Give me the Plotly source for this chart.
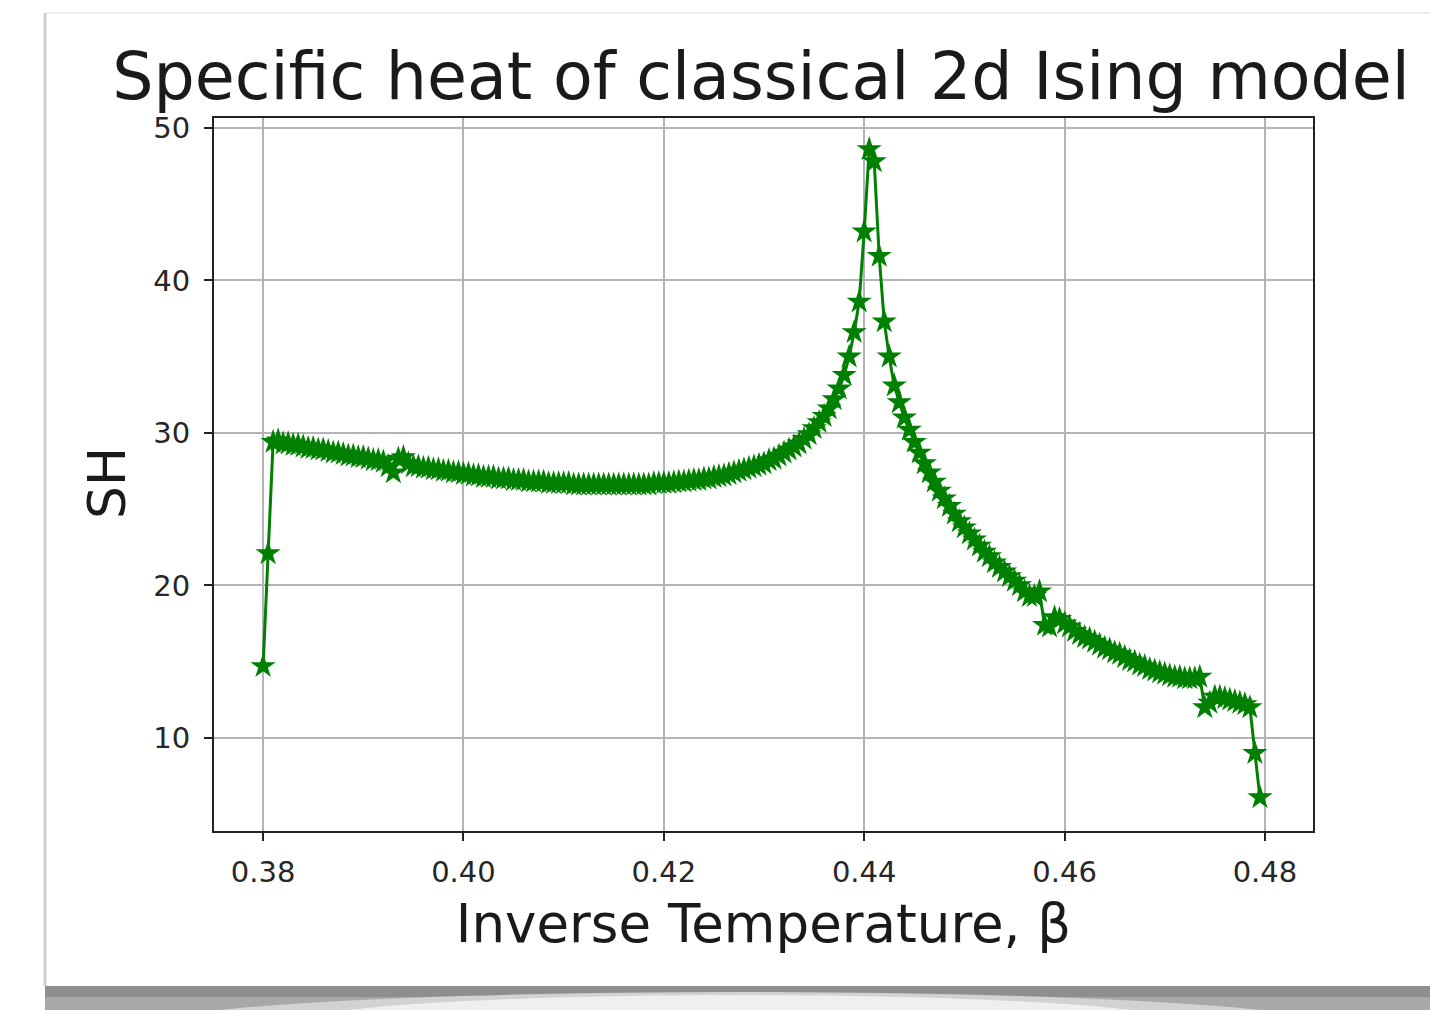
import numpy as np
import plotly.graph_objects as go

# Inverse temperature grid (beta from 0.38 in steps of 0.0005, 200 points)
beta_start = 0.38
beta_step = 0.0005
n_points = 200
beta = np.round(beta_start + beta_step * np.arange(n_points), 4)

# Specific heat values
sh = [
    14.7, 22.1, 29.4, 29.5, 29.3, 29.3, 29.2, 29.2, 29.1, 29.0,
    29.0, 28.9, 28.9, 28.8, 28.7, 28.7, 28.6, 28.5, 28.5, 28.4,
    28.4, 28.3, 28.2, 28.2, 28.1, 27.8, 27.4, 28.3, 28.4, 28.0,
    27.8, 27.8, 27.7, 27.7, 27.6, 27.6, 27.5, 27.5, 27.4, 27.4,
    27.3, 27.3, 27.2, 27.2, 27.1, 27.1, 27.1, 27.0, 27.0, 27.0,
    26.9, 26.9, 26.9, 26.8, 26.8, 26.8, 26.8, 26.7, 26.7, 26.7,
    26.7, 26.7, 26.6, 26.6, 26.6, 26.6, 26.6, 26.6, 26.6, 26.6,
    26.6, 26.6, 26.6, 26.6, 26.6, 26.6, 26.6, 26.6, 26.7, 26.7,
    26.7, 26.7, 26.75, 26.8, 26.8, 26.85, 26.9, 26.9, 27.0, 27.0,
    27.1, 27.15, 27.2, 27.3, 27.4, 27.5, 27.6, 27.7, 27.8, 27.9,
    28.0, 28.2, 28.3, 28.5, 28.7, 28.9, 29.1, 29.3, 29.6, 29.9,
    30.3, 30.7, 31.1, 31.6, 32.2, 32.9, 33.8, 35.0, 36.6, 38.6,
    43.2, 48.6, 47.8, 41.6, 37.3, 35.0, 33.1, 32.0, 31.0, 30.2,
    29.4, 28.7, 28.0, 27.4, 26.8, 26.2, 25.7, 25.2, 24.7, 24.2,
    23.8, 23.4, 23.0, 22.6, 22.2, 21.9, 21.5, 21.2, 20.9, 20.6,
    20.3, 20.0, 19.6, 19.3, 19.3, 19.6, 17.4, 17.3, 17.9, 17.8,
    17.5, 17.3, 17.0, 16.8, 16.6, 16.5, 16.3, 16.1, 15.9, 15.8,
    15.6, 15.5, 15.3, 15.1, 15.0, 14.8, 14.7, 14.5, 14.4, 14.3,
    14.2, 14.1, 14.0, 14.0, 13.9, 13.9, 13.9, 14.0, 12.0, 12.3,
    12.7, 12.7, 12.6, 12.5, 12.4, 12.3, 12.2, 12.0, 9.0, 6.1,
]

x_ticks = [0.38, 0.40, 0.42, 0.44, 0.46, 0.48]
x_tick_labels = ["0.38", "0.40", "0.42", "0.44", "0.46", "0.48"]
y_ticks = [10, 20, 30, 40, 50]
y_tick_labels = ["10", "20", "30", "40", "50"]

title_text = "Specific heat of classical 2d Ising model"
x_title = "Inverse Temperature, β"
y_title = "SH"

W, H = 1430, 1010
L, R, T, B = 214, 117, 118, 179
pw, ph = W - L - R, H - T - B


def px(xp):
    return (xp - L) / pw


def py(yp):
    return (H - B - yp) / ph


FONT = "DejaVu Sans"
TXT = "#1a1a1a"

fig = go.Figure()
fig.add_trace(go.Scatter(
    x=beta, y=sh, mode="lines+markers",
    line=dict(color="#008000", width=3),
    marker=dict(symbol="star", size=19, color="#008000",
                line=dict(width=0)),
    showlegend=False,
))

shapes = [
    # card frame decorations
    dict(type="line", xref="paper", yref="paper",
         x0=px(45), x1=px(1430), y0=py(13), y1=py(13),
         line=dict(color="#ececec", width=2), layer="below"),
    dict(type="line", xref="paper", yref="paper",
         x0=px(45), x1=px(45), y0=py(13), y1=py(986),
         line=dict(color="#cfcfcf", width=3), layer="below"),
    dict(type="rect", xref="paper", yref="paper",
         x0=px(45), x1=px(1430), y0=py(986), y1=py(1010),
         fillcolor="#8e8e8e", line=dict(width=0), layer="below"),
    dict(type="rect", xref="paper", yref="paper",
         x0=px(45), x1=px(1430), y0=py(997), y1=py(1010),
         fillcolor="#a8a8a8", line=dict(width=0), layer="below"),
    dict(type="circle", xref="paper", yref="paper",
         x0=px(150), x1=px(1330), y0=py(992), y1=py(1060),
         fillcolor="#d2d2d2", line=dict(width=0), layer="below"),
    dict(type="circle", xref="paper", yref="paper",
         x0=px(300), x1=px(1180), y0=py(995), y1=py(1050),
         fillcolor="#efefef", line=dict(width=0), layer="below"),
]

annotations = [
    dict(text=y_title, xref="paper", yref="paper", x=px(107), y=py(483),
         xanchor="center", yanchor="middle", textangle=-90, showarrow=False,
         font=dict(size=52, family=FONT, color=TXT)),
]

fig.update_layout(
    width=W, height=H,
    margin=dict(l=L, r=R, t=T, b=B, autoexpand=False),
    paper_bgcolor="white", plot_bgcolor="white",
    font=dict(family=FONT, color=TXT),
    title=dict(text=title_text, x=px(761), xref="paper", xanchor="center",
               y=1 - 76 / H, yref="container", yanchor="middle",
               font=dict(size=65, family=FONT, color=TXT)),
    shapes=shapes,
    annotations=annotations,
    xaxis=dict(
        range=[0.3751, 0.4848], tickvals=x_ticks, ticktext=x_tick_labels,
        showgrid=True, gridcolor="#b4b4b4", gridwidth=2,
        showline=True, linecolor="#222", linewidth=2, mirror=True,
        ticks="outside", ticklen=8, tickwidth=2, tickcolor="#222",
        ticklabelstandoff=6,
        tickfont=dict(size=29, family=FONT, color="#262626"),
        zeroline=False,
        title=dict(text=x_title, font=dict(size=53, family=FONT, color=TXT),
                   standoff=17),
        automargin=False,
    ),
    yaxis=dict(
        range=[3.9, 50.65], tickvals=y_ticks, ticktext=y_tick_labels,
        showgrid=True, gridcolor="#b4b4b4", gridwidth=2,
        showline=True, linecolor="#222", linewidth=2, mirror=True,
        ticks="outside", ticklen=8, tickwidth=2, tickcolor="#222",
        ticklabelstandoff=8,
        tickfont=dict(size=29, family=FONT, color="#262626"),
        zeroline=False,
        automargin=False,
    ),
)

fig.write_html("out.html")
